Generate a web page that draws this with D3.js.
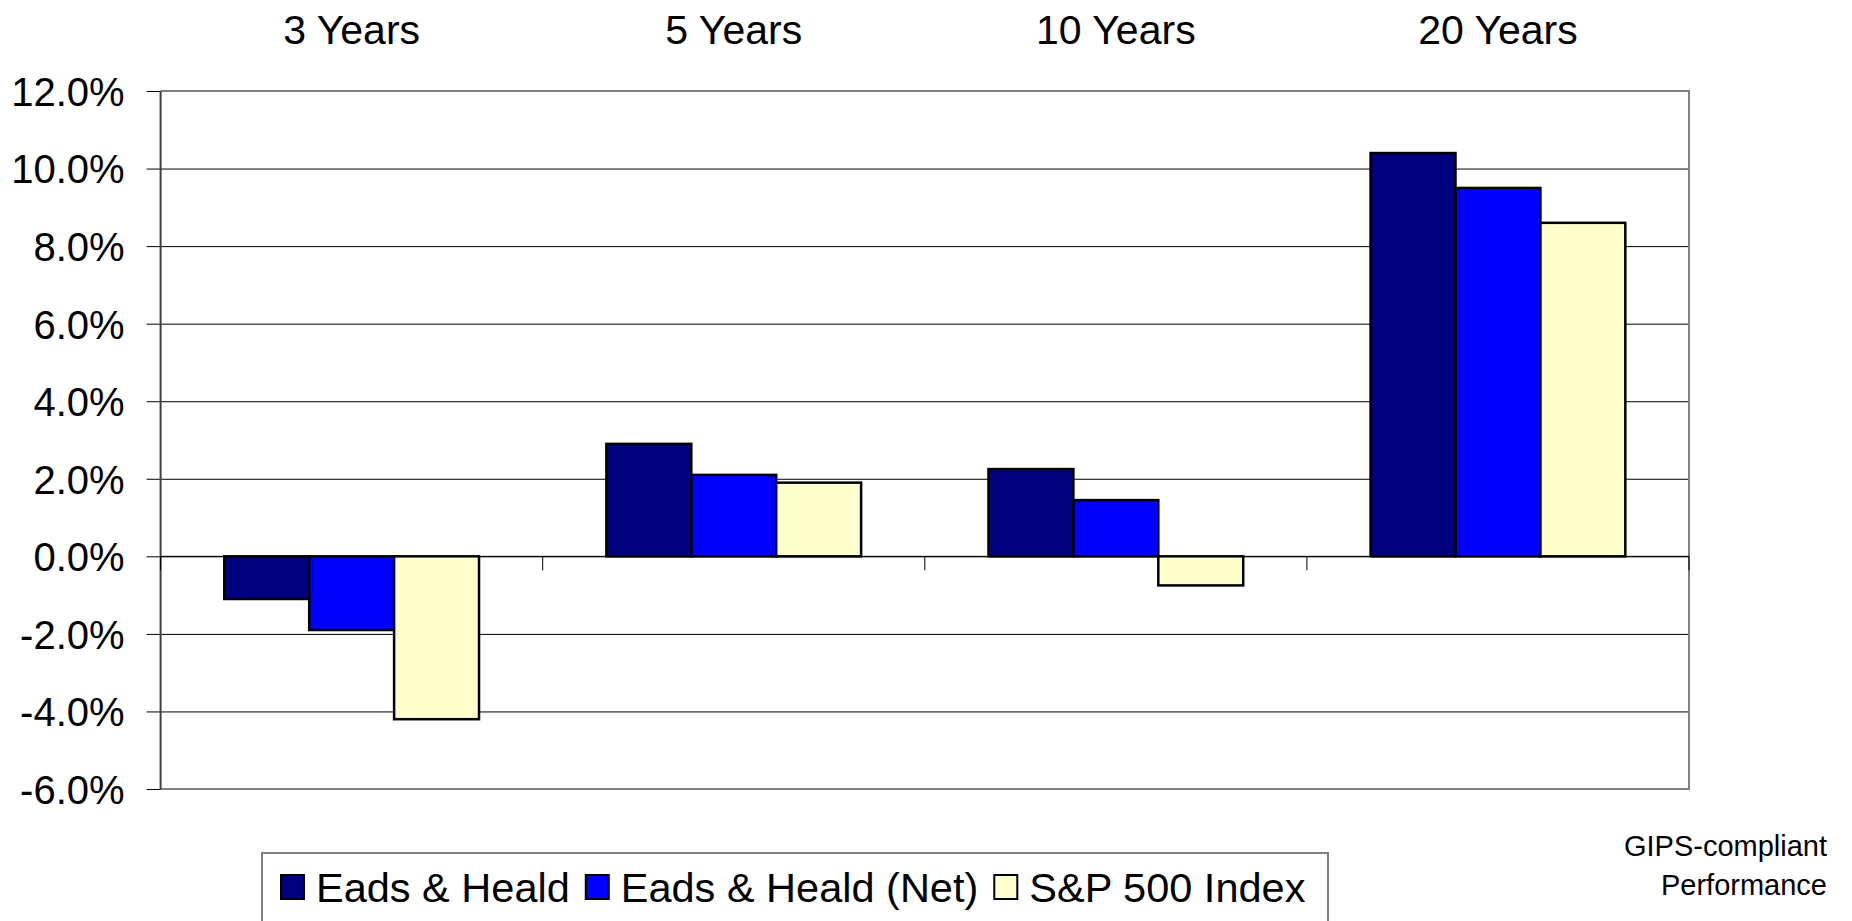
<!DOCTYPE html>
<html>
<head>
<meta charset="utf-8">
<script src="https://cdn.jsdelivr.net/npm/d3@7"></script>
<style>
  body { margin: 0; background: #fff; }
  svg text { font-family: "Liberation Sans", Arial, sans-serif; fill: #000; }
  .grid line { stroke: #000; stroke-width: 1; }
  .grid path { display: none; }
  #y-axis path { display: none; }
  #y-axis line { stroke: #000; }
</style>
</head>
<body>
<svg id="chart" width="1852" height="921"></svg>
<script>
var categories = ["3 Years", "5 Years", "10 Years", "20 Years"];
var seriesNames = ["Eads & Heald", "Eads & Heald (Net)", "S&P 500 Index"];
var eadsHeald = [-1.1, 2.9, 2.25, 10.4];
var eadsHealdNet = [-1.9, 2.1, 1.45, 9.5];
var sp500 = [-4.2, 1.9, -0.75, 8.6];
var yTicks = [-6, -4, -2, 0, 2, 4, 6, 8, 10, 12];
var colors = ["#000080", "#0000ff", "#ffffcc"];

var seriesValues = [eadsHeald, eadsHealdNet, sp500];

var svg = d3.select("svg#chart");
var plotLeft = 160.6, plotRight = 1689, plotTop = 91, plotBottom = 789;

/*Scales*/
var yScale = d3.scaleLinear()
  .domain([d3.min(yTicks), d3.max(yTicks)])
  .range([plotBottom, plotTop]);

var catScale = d3.scaleBand()
  .domain(categories)
  .range([plotLeft, plotRight])
  .padding(0);

// gap width 150% like the original spreadsheet chart
var bw = catScale.bandwidth();
var seriesScale = d3.scaleBand()
  .domain(seriesNames)
  .range([bw / 6, bw * 5 / 6])
  .padding(0);

// grid
var grid = d3.axisLeft(yScale)
  .tickValues(yTicks)
  .tickFormat("")
  .tickSize(-(plotRight - plotLeft));

svg.append("g")
  .attr("class", "grid")
  .attr("transform", "translate(" + plotLeft + ",0)")
  .call(grid);

// plot area border (top, right, bottom in gray)
svg.append("path")
  .attr("d", "M" + plotLeft + "," + plotTop + "H" + plotRight + "V" + plotBottom + "H" + plotLeft)
  .attr("fill", "none")
  .attr("stroke", "#808080")
  .attr("stroke-width", 2);

// bars
var rows = [];
categories.forEach(function(c, i) {
  seriesNames.forEach(function(s, j) {
    rows.push({cat: c, series: s, value: seriesValues[j][i], color: colors[j]});
  });
});

svg.append("g")
  .attr("id", "bars")
  .selectAll("rect")
  .data(rows)
  .enter().append("rect")
  .attr("x", function(d) { return catScale(d.cat) + seriesScale(d.series); })
  .attr("width", seriesScale.bandwidth())
  .attr("y", function(d) { return yScale(Math.max(0, d.value)); })
  .attr("height", function(d) { return Math.abs(yScale(d.value) - yScale(0)); })
  .attr("fill", function(d) { return d.color; })
  .attr("stroke", "#000")
  .attr("stroke-width", 2.5);

// y axis
var yAxis = d3.axisLeft(yScale)
  .tickValues(yTicks)
  .tickSize(14)
  .tickPadding(22)
  .tickFormat(function(d) { return d.toFixed(1) + "%"; });

var yG = svg.append("g")
  .attr("id", "y-axis")
  .attr("transform", "translate(" + plotLeft + ",0)")
  .call(yAxis);
yG.selectAll("text").style("font-size", "40px").attr("dy", "0.36em");

svg.append("line")
  .attr("x1", plotLeft).attr("x2", plotLeft)
  .attr("y1", plotTop).attr("y2", plotBottom)
  .attr("stroke", "#404040")
  .attr("stroke-width", 2);

// category axis along zero
var zeroY = yScale(0);
svg.append("line")
  .attr("x1", plotLeft).attr("x2", plotRight)
  .attr("y1", zeroY).attr("y2", zeroY)
  .attr("stroke", "#000").attr("stroke-width", 1);

var boundaries = categories.map(function(c) { return catScale(c); }).concat([plotRight]);
svg.append("g")
  .attr("id", "x-ticks")
  .selectAll("line")
  .data(boundaries)
  .enter().append("line")
  .attr("x1", function(d) { return d; })
  .attr("x2", function(d) { return d; })
  .attr("y1", zeroY)
  .attr("y2", zeroY + 14)
  .attr("stroke", "#000");

// category labels at the top
svg.append("g")
  .attr("id", "cat-labels")
  .selectAll("text")
  .data(categories)
  .enter().append("text")
  .attr("x", function(d) { return catScale(d) + bw / 2; })
  .attr("y", 44)
  .attr("text-anchor", "middle")
  .style("font-size", "41px")
  .text(function(d) { return d; });

// legend
var legend = svg.append("g").attr("id", "legend");
legend.append("rect")
  .attr("x", 262).attr("y", 853)
  .attr("width", 1066).attr("height", 90)
  .attr("fill", "#fff")
  .attr("stroke", "#808080")
  .attr("stroke-width", 2);

var lx = 281;
seriesNames.forEach(function(s, j) {
  legend.append("rect")
    .attr("x", lx).attr("y", 875)
    .attr("width", 23).attr("height", 24)
    .attr("fill", colors[j])
    .attr("stroke", "#000")
    .attr("stroke-width", 2);
  var t = legend.append("text")
    .attr("x", lx + 35).attr("y", 902)
    .style("font-size", "41.5px")
    .text(s);
  lx = lx + 35 + t.node().getComputedTextLength() + 16;
});

// note
var note = svg.append("text")
  .attr("text-anchor", "end")
  .style("font-size", "29px");
note.append("tspan").attr("x", 1827).attr("y", 856).text("GIPS-compliant");
note.append("tspan").attr("x", 1827).attr("y", 895).text("Performance");
</script>
</body>
</html>
